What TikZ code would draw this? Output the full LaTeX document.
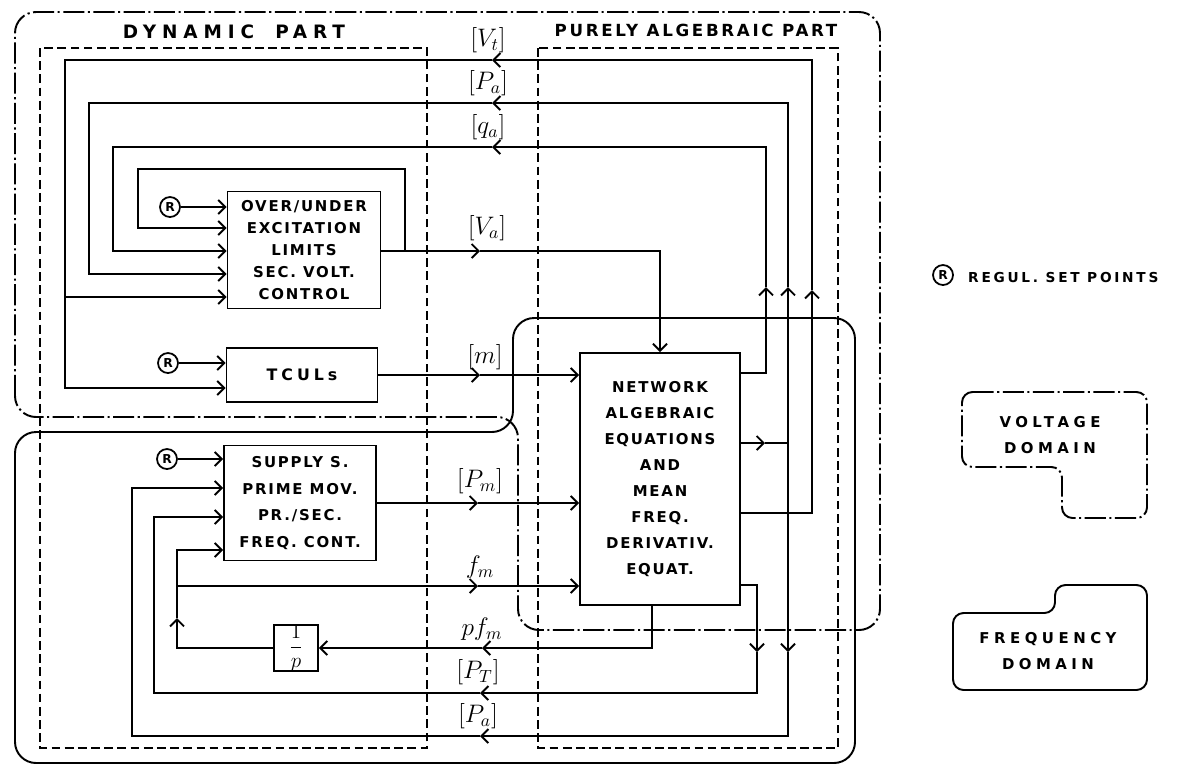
\documentclass[tikz,border=0pt]{standalone}
\usepackage{amsmath}
\usepackage{fontspec}
\newfontfamily\handfont[LetterSpace=12]{DejaVu Sans}
\usetikzlibrary{arrows.meta,positioning,calc}

\begin{document}
\begin{tikzpicture}[x=0.02cm, y=-0.02cm,
  font=\handfont\bfseries\fontsize{8.5}{12.5}\selectfont,
  blk/.style={draw, line width=1.1pt, align=center, inner sep=0pt},
  setpt/.style={draw, line width=1pt, circle, minimum size=4mm, inner sep=0pt, font=\handfont\bfseries\fontsize{7}{8}\selectfont},
  wire/.style={line width=1.1pt},
  arr/.style={-{Straight Barb[length=1.4mm, width=2.8mm]}, line width=1.1pt},
  lab/.style={font=\Large, inner sep=1pt},
  partbox/.style={line width=1.1pt, dash pattern=on 5pt off 2.5pt},
  vdom/.style={line width=1.1pt, dash pattern=on 12pt off 2pt on 1.2pt off 2pt, rounded corners=12pt},
  fdom/.style={line width=1.1pt, rounded corners=12pt},
  ttl/.style={font=\handfont\bfseries\addfontfeature{LetterSpace=32}\fontsize{10.5}{12}\selectfont},
  ttl2/.style={font=\handfont\bfseries\addfontfeature{LetterSpace=16}\fontsize{9.5}{11}\selectfont},
  leg/.style={font=\handfont\bfseries\addfontfeature{LetterSpace=30}\fontsize{8.5}{15}\selectfont, align=center}]
\useasboundingbox (0,0) rectangle (1179,769);
% voltage and frequency domains
\draw[vdom] (15,417) -- (15,12) -- (880,12) -- (880,630) -- (518,630) -- (518,417) -- cycle;
\draw[fdom] (15,432) -- (513,432) -- (513,318) -- (855,318) -- (855,763) -- (15,763) -- cycle;
% dynamic and algebraic parts
\draw[partbox] (40,48) rectangle (427,748);
\draw[partbox] (538,48) rectangle (838,748);
\node[ttl] (dyn) at (234,32) {DYNAMIC\hspace{12pt}PART};
\node[ttl2] (alg) at (696,30) {PURELY ALGEBRAIC PART};
% blocks
\node[blk, minimum width=3.06cm, minimum height=2.34cm] (exc) at (304,250) {OVER/UNDER\\EXCITATION\\LIMITS\\SEC. VOLT.\\CONTROL};
\node[blk, minimum width=3.02cm, minimum height=1.08cm, font=\handfont\bfseries\addfontfeature{LetterSpace=25}\fontsize{9}{11}\selectfont] (tcul) at (302,375) {TCULs};
\node[blk, minimum width=3.04cm, minimum height=2.3cm, font=\handfont\bfseries\fontsize{8.5}{15.3}\selectfont] (sup) at (300,503) {SUPPLY S.\\PRIME MOV.\\PR./SEC.\\FREQ. CONT.};
\node[blk, minimum width=3.2cm, minimum height=5.04cm, font=\handfont\bfseries\fontsize{8.5}{14.8}\selectfont] (net) at (660,479) {NETWORK\\ALGEBRAIC\\EQUATIONS\\AND\\MEAN\\FREQ.\\DERIVATIV.\\EQUAT.};
\node[blk, minimum width=0.88cm, minimum height=0.84cm, font=\large] (intg) at (296,648) {$\dfrac{1}{p}$};
% set points
\node[setpt] (r1) at (170,207) {R};
\node[setpt] (r2) at (168,363) {R};
\node[setpt] (r3) at (167,459) {R};
\draw[arr] (r1) -- (r1 -| exc.west);
\draw[arr] (r2) -- (r2 -| tcul.west);
\draw[arr] (r3) -- (r3 -| sup.west);
% turning points of the buses
\coordinate (vt-up) at (812,290);
\coordinate (vt-mid) at (492,60);
\coordinate (vt-j) at (65,297);
\coordinate (pa-out) at (765,443);
\coordinate (pa-j) at (788,443);
\coordinate (pa-up) at (788,287);
\coordinate (pa-mid) at (492,103);
\coordinate (pa-dn) at (788,652);
\coordinate (pa-mid2) at (480,736);
\coordinate (qa-up) at (766,287);
\coordinate (qa-mid) at (492,147);
\coordinate (va-j) at (405,251);
\coordinate (va-mid) at (480,251);
\coordinate (m-mid) at (480,375);
\coordinate (pm-mid) at (478,503);
\coordinate (fm-j) at (177,586);
\coordinate (fm-mid) at (478,586);
\coordinate (pf-mid) at (482,648);
\coordinate (f-up) at (177,618);
\coordinate (pt-dn) at (757,652);
\coordinate (pt-mid) at (480,693);
% voltage feedbacks
\draw[arr] (net.east |- 0,513) -| (vt-up);
\draw[arr] (vt-up) |- (vt-mid);
\draw[arr] (vt-mid) -| (vt-j) -- (exc.west |- vt-j);
\draw[arr] (vt-j) |- (tcul.west |- 0,388);
\draw[arr] (net.east |- pa-out) -- (pa-out);
\draw[wire] (pa-out) -- (pa-j);
\draw[arr] (pa-j) -- (pa-up);
\draw[arr] (pa-up) |- (pa-mid);
\draw[arr] (pa-mid) -| (89,274) -- (exc.west |- 0,274);
\draw[arr] (net.east |- 0,373) -| (qa-up);
\draw[arr] (qa-up) |- (qa-mid);
\draw[arr] (qa-mid) -| (113,251) -- (exc.west |- 0,251);
\draw[arr] (exc.east |- va-j) -- (va-mid);
\draw[arr] (va-mid) -| (net.north);
\draw[arr] (va-j) |- (138,169) -- (138,228) -- (exc.west |- 0,228);
\draw[arr] (tcul.east) -- (m-mid);
\draw[arr] (m-mid) -- (net.west |- m-mid);
% frequency loop
\draw[arr] (sup.east |- pm-mid) -- (pm-mid);
\draw[arr] (pm-mid) -- (net.west |- pm-mid);
\draw[arr] (fm-j) -- (fm-mid);
\draw[arr] (fm-mid) -- (net.west |- fm-mid);
\draw[arr] ($(net.south)+(-8,0)$) |- (pf-mid);
\draw[arr] (pf-mid) -- (intg.east);
\draw[arr] (intg.west) -| (f-up);
\draw[arr] (f-up) |- (sup.west |- 0,550);
\draw[arr] (net.east |- 0,585) -| (pt-dn);
\draw[arr] (pt-dn) |- (pt-mid);
\draw[arr] (pt-mid) -| (154,517) -- (sup.west |- 0,517);
\draw[arr] (pa-j) -- (pa-dn);
\draw[arr] (pa-dn) |- (pa-mid2);
\draw[arr] (pa-mid2) -| (132,488) -- (sup.west |- 0,488);
% bus labels
\node[lab] (l-vt) at (488,40) {$[V_t]$};
\node[lab] (l-pa) at (488,83) {$[P_a]$};
\node[lab] (l-qa) at (488,127) {$[q_a]$};
\node[lab] (l-va) at (487,228) {$[V_a]$};
\node[lab] (l-m) at (485,357) {$[m]$};
\node[lab] (l-pm) at (480,481) {$[P_m]$};
\node[lab] (l-fm) at (480,567) {$f_m$};
\node[lab] (l-pf) at (482,629) {$pf_m$};
\node[lab] (l-pt) at (478,672) {$[P_T]$};
\node[lab] (l-pa2) at (478,716) {$[P_a]$};
% legend
\node[setpt] (rl) at (943,275) {R};
\node[anchor=west, font=\handfont\bfseries\addfontfeature{LetterSpace=20}\fontsize{7.8}{9}\selectfont] (rtxt) at (962,277) {REGUL. SET POINTS};
\draw[vdom, rounded corners=6pt] (962,392) -- (1147,392) -- (1147,518) -- (1062,518) -- (1062,467) -- (962,467) -- cycle;
\node[leg] (vleg) at (1050,435) {VOLTAGE\\DOMAIN};
\draw[fdom, rounded corners=6pt] (953,613) -- (1055,613) -- (1055,585) -- (1147,585) -- (1147,690) -- (953,690) -- cycle;
\node[leg] (fleg) at (1048,651) {FREQUENCY\\DOMAIN};
\end{tikzpicture}
\end{document}
